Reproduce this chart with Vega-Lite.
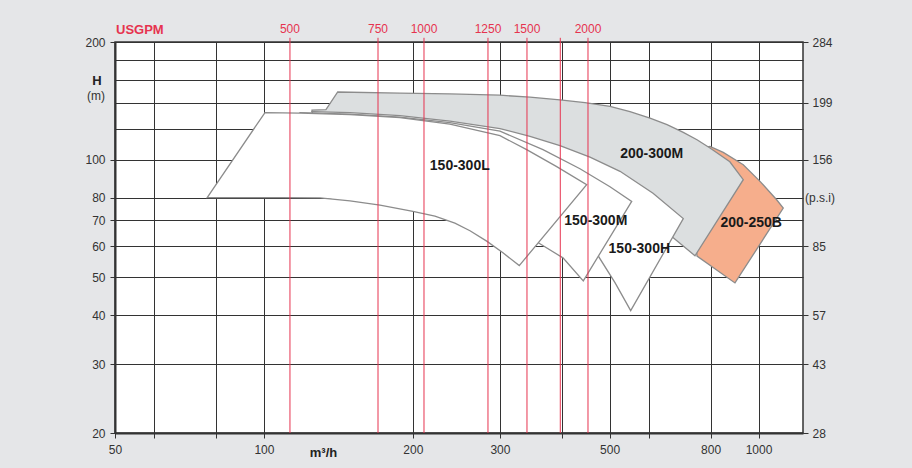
{
  "$schema": "https://vega.github.io/schema/vega-lite/v6.json",
  "width": 688,
  "height": 391,
  "autosize": {"type": "none"},
  "padding": {"left": 115, "top": 42, "right": 109, "bottom": 35},
  "background": "#e5e6e8",
  "config": {"font": "Liberation Sans", "view": {"fill": "#ffffff", "stroke": "#333333", "strokeWidth": 1.5}},
  "datasets": {
    "shapes": [
      {"s": "B", "i": 0, "q": 726.8, "h": 106.1},
      {"s": "B", "i": 1, "q": 797.7, "h": 108.1},
      {"s": "B", "i": 2, "q": 848.6, "h": 104.4},
      {"s": "B", "i": 3, "q": 931.4, "h": 97.1},
      {"s": "B", "i": 4, "q": 1007, "h": 88.0},
      {"s": "B", "i": 5, "q": 1088, "h": 79.0},
      {"s": "B", "i": 6, "q": 1122, "h": 75.2},
      {"s": "B", "i": 7, "q": 896.1, "h": 48.4},
      {"s": "B", "i": 8, "q": 750.9, "h": 56.7},
      {"s": "G", "i": 0, "q": 141.0, "h": 149.0},
      {"s": "G", "i": 1, "q": 188.4, "h": 148.0},
      {"s": "G", "i": 2, "q": 237.7, "h": 147.3},
      {"s": "G", "i": 3, "q": 300.1, "h": 146.2},
      {"s": "G", "i": 4, "q": 345.1, "h": 144.5},
      {"s": "G", "i": 5, "q": 396.8, "h": 142.3},
      {"s": "G", "i": 6, "q": 445.8, "h": 139.9},
      {"s": "G", "i": 7, "q": 500.8, "h": 136.9},
      {"s": "G", "i": 8, "q": 549.7, "h": 132.7},
      {"s": "G", "i": 9, "q": 603.4, "h": 127.7},
      {"s": "G", "i": 10, "q": 653.2, "h": 122.9},
      {"s": "G", "i": 11, "q": 704.5, "h": 117.5},
      {"s": "G", "i": 12, "q": 750.9, "h": 112.5},
      {"s": "G", "i": 13, "q": 797.7, "h": 107.1},
      {"s": "G", "i": 14, "q": 875.0, "h": 98.8},
      {"s": "G", "i": 15, "q": 931.4, "h": 88.9},
      {"s": "G", "i": 16, "q": 743.9, "h": 56.8},
      {"s": "G", "i": 17, "q": 671.4, "h": 63.2},
      {"s": "G", "i": 18, "q": 632.1, "h": 67.0},
      {"s": "G", "i": 19, "q": 575.9, "h": 72.3},
      {"s": "G", "i": 20, "q": 478.1, "h": 83.8},
      {"s": "G", "i": 21, "q": 378.8, "h": 97.1},
      {"s": "G", "i": 22, "q": 300.1, "h": 106.1},
      {"s": "G", "i": 23, "q": 237.7, "h": 115.9},
      {"s": "G", "i": 24, "q": 188.4, "h": 122.9},
      {"s": "G", "i": 25, "q": 149.3, "h": 128.1},
      {"s": "G", "i": 26, "q": 125.1, "h": 132.7},
      {"s": "G", "i": 27, "q": 125.1, "h": 133.9},
      {"s": "G", "i": 28, "q": 133.5, "h": 134.3},
      {"s": "H", "i": 0, "q": 125.1, "h": 132.7},
      {"s": "H", "i": 1, "q": 149.3, "h": 131.9},
      {"s": "H", "i": 2, "q": 188.4, "h": 129.6},
      {"s": "H", "i": 3, "q": 237.7, "h": 125.5},
      {"s": "H", "i": 4, "q": 300.1, "h": 120.1},
      {"s": "H", "i": 5, "q": 345.1, "h": 114.8},
      {"s": "H", "i": 6, "q": 396.8, "h": 108.6},
      {"s": "H", "i": 7, "q": 456.3, "h": 101.5},
      {"s": "H", "i": 8, "q": 524.7, "h": 93.4},
      {"s": "H", "i": 9, "q": 611.9, "h": 82.1},
      {"s": "H", "i": 10, "q": 704.5, "h": 70.7},
      {"s": "H", "i": 11, "q": 551.5, "h": 41.1},
      {"s": "H", "i": 12, "q": 512.6, "h": 48.5},
      {"s": "H", "i": 13, "q": 474.3, "h": 56.7},
      {"s": "H", "i": 14, "q": 415.7, "h": 64.3},
      {"s": "H", "i": 15, "q": 361.5, "h": 72.3},
      {"s": "H", "i": 16, "q": 300.1, "h": 81.4},
      {"s": "H", "i": 17, "q": 237.7, "h": 88.9},
      {"s": "H", "i": 18, "q": 188.4, "h": 93.2},
      {"s": "H", "i": 19, "q": 136.0, "h": 95.4},
      {"s": "M", "i": 0, "q": 118.3, "h": 131.9},
      {"s": "M", "i": 1, "q": 149.3, "h": 130.8},
      {"s": "M", "i": 2, "q": 188.4, "h": 128.5},
      {"s": "M", "i": 3, "q": 237.7, "h": 124.4},
      {"s": "M", "i": 4, "q": 300.1, "h": 118.3},
      {"s": "M", "i": 5, "q": 366.6, "h": 106.1},
      {"s": "M", "i": 6, "q": 435.5, "h": 94.8},
      {"s": "M", "i": 7, "q": 500.8, "h": 85.3},
      {"s": "M", "i": 8, "q": 554.1, "h": 78.2},
      {"s": "M", "i": 9, "q": 442.3, "h": 49.0},
      {"s": "M", "i": 10, "q": 402.4, "h": 56.1},
      {"s": "M", "i": 11, "q": 358.7, "h": 61.3},
      {"s": "M", "i": 12, "q": 329.4, "h": 65.4},
      {"s": "M", "i": 13, "q": 300.1, "h": 69.4},
      {"s": "M", "i": 14, "q": 237.7, "h": 77.6},
      {"s": "M", "i": 15, "q": 188.4, "h": 83.8},
      {"s": "M", "i": 16, "q": 149.3, "h": 87.9},
      {"s": "M", "i": 17, "q": 118.3, "h": 89.9},
      {"s": "L", "i": 0, "q": 100.5, "h": 132.0},
      {"s": "L", "i": 1, "q": 118.3, "h": 131.6},
      {"s": "L", "i": 2, "q": 149.3, "h": 130.4},
      {"s": "L", "i": 3, "q": 188.4, "h": 128.1},
      {"s": "L", "i": 4, "q": 237.7, "h": 123.3},
      {"s": "L", "i": 5, "q": 300.1, "h": 115.2},
      {"s": "L", "i": 6, "q": 339.8, "h": 106.1},
      {"s": "L", "i": 7, "q": 390.8, "h": 96.0},
      {"s": "L", "i": 8, "q": 449.3, "h": 86.3},
      {"s": "L", "i": 9, "q": 328.3, "h": 53.6},
      {"s": "L", "i": 10, "q": 304.3, "h": 57.8},
      {"s": "L", "i": 11, "q": 282.1, "h": 61.9},
      {"s": "L", "i": 12, "q": 261.0, "h": 65.8},
      {"s": "L", "i": 13, "q": 243.3, "h": 68.8},
      {"s": "L", "i": 14, "q": 221.7, "h": 71.7},
      {"s": "L", "i": 15, "q": 200.1, "h": 73.8},
      {"s": "L", "i": 16, "q": 171.7, "h": 76.5},
      {"s": "L", "i": 17, "q": 149.3, "h": 78.5},
      {"s": "L", "i": 18, "q": 129.8, "h": 79.9},
      {"s": "L", "i": 19, "q": 107.7, "h": 80.0},
      {"s": "L", "i": 20, "q": 76.8, "h": 80.0}
    ],
    "usgpm": [
      {"usgpm": 500, "q": 112.9},
      {"usgpm": 750, "q": 170.1},
      {"usgpm": 1000, "q": 210.7},
      {"usgpm": 1250, "q": 283.8},
      {"usgpm": 1500, "q": 340.3},
      {"usgpm": 1750, "q": 397.4},
      {"usgpm": 2000, "q": 452.1}
    ],
    "labels": [
      {"name": "150-300L", "q": 248.9, "h": 96.5},
      {"name": "150-300M", "q": 468.8, "h": 69.5},
      {"name": "150-300H", "q": 574.1, "h": 59.1},
      {"name": "200-300M", "q": 608.2, "h": 103.6},
      {"name": "200-250B", "q": 966.6, "h": 68.9}
    ],
    "notes": [
      {"t": "H", "q": 50, "h": 158.6},
      {"t": "(m)", "q": 50, "h": 145.2},
      {"t": "(p.s.i)", "q": 1230, "h": 80},
      {"t": "USGPM", "q": 50, "h": 200}
    ]
  },
  "resolve": {"axis": {"x": "independent", "y": "independent"}},
  "layer": [
    {
      "data": {"name": "shapes"},
      "transform": [{"filter": "datum.s == 'B'"}],
      "mark": {"type": "line", "interpolate": "linear-closed", "fill": "#f6ae8c", "stroke": "#8c8c8c", "strokeWidth": 1.3},
      "encoding": {
        "x": {"field": "q", "type": "quantitative", "scale": {"type": "log", "domain": [50, 1230], "nice": false},
          "axis": {"orient": "bottom", "values": [50, 60, 80, 100, 200, 300, 400, 500, 600, 800, 1000], "grid": true, "gridColor": "#333333", "gridWidth": 1,
            "domainColor": "#333333", "domainWidth": 2, "tickColor": "#333333", "tickSize": 5,
            "labelExpr": "(datum.value == 60 || datum.value == 80 || datum.value == 400 || datum.value == 600) ? '' : datum.value",
            "labelFontSize": 12, "labelColor": "#333333", "labelPadding": 6, "labelFlush": false, "labelOverlap": false,
            "title": "m³/h", "titleFontSize": 13, "titleFontWeight": "bold", "titleColor": "#222222", "titleX": 208, "titleY": 19, "titleBaseline": "middle", "titleAlign": "center"}},
        "y": {"field": "h", "type": "quantitative", "scale": {"type": "log", "domain": [20, 200], "nice": false},
          "axis": {"orient": "left", "values": [20, 30, 40, 50, 60, 70, 80, 100, 120, 140, 160, 180, 200], "grid": true, "gridColor": "#333333", "gridWidth": 1,
            "domainColor": "#333333", "domainWidth": 2, "tickColor": "#333333", "tickSize": 5,
            "tickOpacity": {"condition": {"test": "datum.value > 100 && datum.value < 200", "value": 0}, "value": 1},
            "labelExpr": "(datum.value > 100 && datum.value < 200) ? '' : datum.value",
            "labelFontSize": 12, "labelColor": "#333333", "labelPadding": 5, "labelFlush": false, "labelOverlap": false, "title": null}},
        "order": {"field": "i", "type": "quantitative"}
      }
    },
    {
      "data": {"name": "shapes"},
      "transform": [{"filter": "datum.s == 'G'"}],
      "mark": {"type": "line", "interpolate": "linear-closed", "fill": "#dcdfe0", "stroke": "#8c8c8c", "strokeWidth": 1.3},
      "encoding": {
        "x": {"field": "q", "type": "quantitative", "scale": {"type": "log", "domain": [50, 1230], "nice": false}, "axis": null},
        "y": {"field": "h", "type": "quantitative", "scale": {"type": "log", "domain": [20, 200], "nice": false}, "axis": null},
        "order": {"field": "i", "type": "quantitative"}
      }
    },
    {
      "data": {"name": "shapes"},
      "transform": [{"filter": "datum.s == 'H'"}],
      "mark": {"type": "line", "interpolate": "linear-closed", "fill": "#ffffff", "stroke": "#8c8c8c", "strokeWidth": 1.3},
      "encoding": {
        "x": {"field": "q", "type": "quantitative", "scale": {"type": "log", "domain": [50, 1230], "nice": false}, "axis": null},
        "y": {"field": "h", "type": "quantitative", "scale": {"type": "log", "domain": [20, 200], "nice": false}, "axis": null},
        "order": {"field": "i", "type": "quantitative"}
      }
    },
    {
      "data": {"name": "shapes"},
      "transform": [{"filter": "datum.s == 'M'"}],
      "mark": {"type": "line", "interpolate": "linear-closed", "fill": "#ffffff", "stroke": "#8c8c8c", "strokeWidth": 1.3},
      "encoding": {
        "x": {"field": "q", "type": "quantitative", "scale": {"type": "log", "domain": [50, 1230], "nice": false}, "axis": null},
        "y": {"field": "h", "type": "quantitative", "scale": {"type": "log", "domain": [20, 200], "nice": false}, "axis": null},
        "order": {"field": "i", "type": "quantitative"}
      }
    },
    {
      "data": {"name": "shapes"},
      "transform": [{"filter": "datum.s == 'L'"}],
      "mark": {"type": "line", "interpolate": "linear-closed", "fill": "#ffffff", "stroke": "#8c8c8c", "strokeWidth": 1.3},
      "encoding": {
        "x": {"field": "q", "type": "quantitative", "scale": {"type": "log", "domain": [50, 1230], "nice": false}, "axis": null},
        "y": {"field": "h", "type": "quantitative", "scale": {"type": "log", "domain": [20, 200], "nice": false}, "axis": null},
        "order": {"field": "i", "type": "quantitative"}
      }
    },
    {
      "data": {"name": "usgpm"},
      "mark": {"type": "rule", "color": "#e6334f", "strokeWidth": 1},
      "encoding": {
        "x": {"field": "q", "type": "quantitative", "scale": {"type": "log", "domain": [50, 1230], "nice": false}, "axis": null},
        "y": {"datum": 205, "scale": {"type": "log", "domain": [20, 200], "nice": false}, "axis": null},
        "y2": {"datum": 20}
      }
    },
    {
      "data": {"name": "usgpm"},
      "transform": [{"filter": "datum.usgpm != 1750"}],
      "mark": {"type": "text", "color": "#e6334f", "fontSize": 12, "dy": -13, "align": "center", "baseline": "middle"},
      "encoding": {
        "x": {"field": "q", "type": "quantitative", "scale": {"type": "log", "domain": [50, 1230], "nice": false}, "axis": null},
        "y": {"datum": 200, "scale": {"type": "log", "domain": [20, 200], "nice": false}, "axis": null},
        "text": {"field": "usgpm", "type": "nominal"}
      }
    },
    {
      "data": {"name": "labels"},
      "mark": {"type": "text", "color": "#1a1a1a", "fontSize": 14, "fontWeight": "bold", "align": "center", "baseline": "middle"},
      "encoding": {
        "x": {"field": "q", "type": "quantitative", "scale": {"type": "log", "domain": [50, 1230], "nice": false}, "axis": null},
        "y": {"field": "h", "type": "quantitative", "scale": {"type": "log", "domain": [20, 200], "nice": false}, "axis": null},
        "text": {"field": "name", "type": "nominal"}
      }
    },
    {
      "data": {"name": "notes"},
      "transform": [{"filter": "datum.t == 'H'"}],
      "mark": {"type": "text", "color": "#222222", "fontSize": 13, "fontWeight": "bold", "align": "center", "baseline": "middle", "dx": -18},
      "encoding": {
        "x": {"field": "q", "type": "quantitative", "scale": {"type": "log", "domain": [50, 1230], "nice": false}, "axis": null},
        "y": {"field": "h", "type": "quantitative", "scale": {"type": "log", "domain": [20, 200], "nice": false}, "axis": null},
        "text": {"field": "t", "type": "nominal"}
      }
    },
    {
      "data": {"name": "notes"},
      "transform": [{"filter": "datum.t == '(m)'"}],
      "mark": {"type": "text", "color": "#333333", "fontSize": 12, "align": "center", "baseline": "middle", "dx": -19},
      "encoding": {
        "x": {"field": "q", "type": "quantitative", "scale": {"type": "log", "domain": [50, 1230], "nice": false}, "axis": null},
        "y": {"field": "h", "type": "quantitative", "scale": {"type": "log", "domain": [20, 200], "nice": false}, "axis": null},
        "text": {"field": "t", "type": "nominal"}
      }
    },
    {
      "data": {"name": "notes"},
      "transform": [{"filter": "datum.t == 'USGPM'"}],
      "mark": {"type": "text", "color": "#e6334f", "fontSize": 13, "fontWeight": "bold", "align": "left", "baseline": "middle", "dx": 1, "dy": -12},
      "encoding": {
        "x": {"field": "q", "type": "quantitative", "scale": {"type": "log", "domain": [50, 1230], "nice": false}, "axis": null},
        "y": {"field": "h", "type": "quantitative", "scale": {"type": "log", "domain": [20, 200], "nice": false}, "axis": null},
        "text": {"field": "t", "type": "nominal"}
      }
    },
    {
      "data": {"name": "notes"},
      "transform": [{"filter": "datum.t == '(p.s.i)'"}],
      "mark": {"type": "text", "color": "#333333", "fontSize": 12, "align": "left", "baseline": "middle", "dx": 2},
      "encoding": {
        "x": {"field": "q", "type": "quantitative", "scale": {"type": "log", "domain": [50, 1230], "nice": false}, "axis": null},
        "y": {"field": "h", "type": "quantitative", "scale": {"type": "log", "domain": [20, 200], "nice": false},
          "axis": {"orient": "right", "values": [20, 30, 40, 60, 100, 140, 200], "grid": false, "domain": false,
            "tickColor": "#333333", "tickSize": 5,
            "labelExpr": "datum.value == 20 ? '28' : datum.value == 30 ? '43' : datum.value == 40 ? '57' : datum.value == 60 ? '85' : datum.value == 100 ? '156' : datum.value == 140 ? '199' : '284'",
            "labelFontSize": 12, "labelColor": "#333333", "labelPadding": 4, "labelFlush": false, "labelOverlap": false, "title": null}},
        "text": {"field": "t", "type": "nominal"}
      }
    }
  ]
}
